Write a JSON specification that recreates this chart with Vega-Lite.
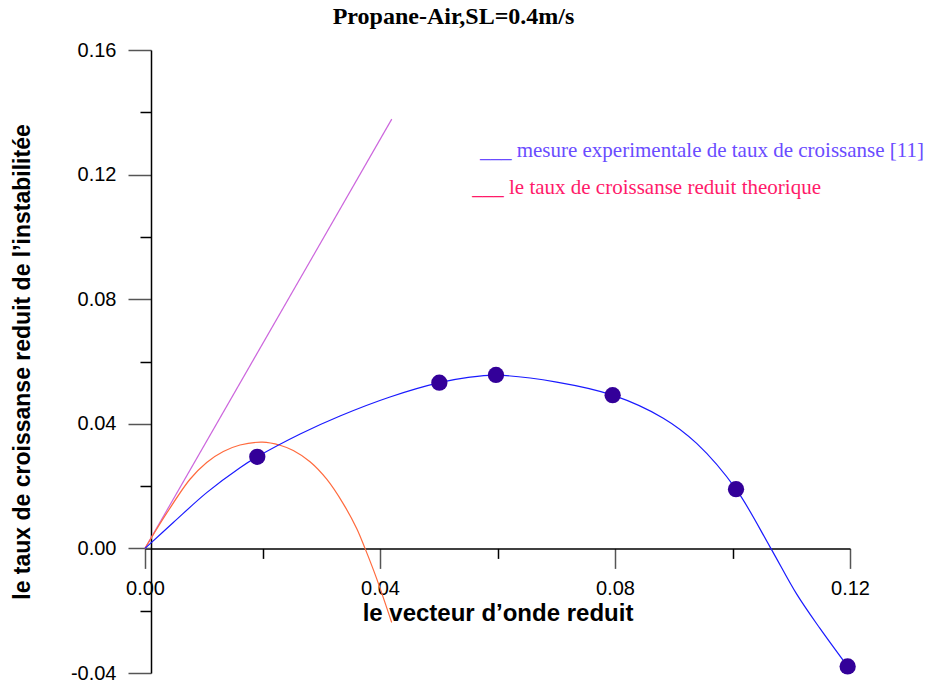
{
  "$schema": "https://vega.github.io/schema/vega-lite/v6.json",
  "width": 705,
  "height": 623,
  "autosize": {"type": "none"},
  "padding": {"left": 145, "top": 50, "right": 82, "bottom": 11},
  "background": "white",
  "config": {"view": {"stroke": null}, "font": "Liberation Sans"},
  "title": {
    "text": "Propane-Air,SL=0.4m/s",
    "font": "Liberation Serif",
    "fontSize": 24,
    "fontWeight": "bold",
    "color": "black",
    "anchor": "middle",
    "frame": "group",
    "offset": 11,
    "dx": -44
  },
  "datasets": {
    "asymptote": [
      {"k": 0, "omega": 0},
      {"k": 0.042, "omega": 0.1378}
    ],
    "theory": [
      {"k": 0, "omega": 0},
      {"k": 0.00369, "omega": 0.0113},
      {"k": 0.00766, "omega": 0.0222},
      {"k": 0.0105, "omega": 0.0276},
      {"k": 0.01333, "omega": 0.0311},
      {"k": 0.01617, "omega": 0.0332},
      {"k": 0.02, "omega": 0.0341},
      {"k": 0.02298, "omega": 0.0331},
      {"k": 0.02524, "omega": 0.0314},
      {"k": 0.02809, "omega": 0.0278},
      {"k": 0.03093, "omega": 0.0222},
      {"k": 0.03376, "omega": 0.0143},
      {"k": 0.03603, "omega": 0.0064},
      {"k": 0.03745, "omega": 0.0},
      {"k": 0.03943, "omega": -0.0097},
      {"k": 0.04199, "omega": -0.0238}
    ],
    "fit": [
      {"k": 0, "omega": 0},
      {"k": 0.00482, "omega": 0.0083},
      {"k": 0.0105, "omega": 0.0179},
      {"k": 0.01617, "omega": 0.0259},
      {"k": 0.01911, "omega": 0.0294},
      {"k": 0.0265, "omega": 0.0368},
      {"k": 0.03319, "omega": 0.0425},
      {"k": 0.0417, "omega": 0.0486},
      {"k": 0.0501, "omega": 0.0532},
      {"k": 0.05476, "omega": 0.0548},
      {"k": 0.05974, "omega": 0.0556},
      {"k": 0.07008, "omega": 0.0534},
      {"k": 0.0796, "omega": 0.0492},
      {"k": 0.08822, "omega": 0.0418},
      {"k": 0.0939, "omega": 0.0337},
      {"k": 0.1006, "omega": 0.019},
      {"k": 0.10638, "omega": 0.0005},
      {"k": 0.11093, "omega": -0.0147},
      {"k": 0.11489, "omega": -0.0257},
      {"k": 0.1196, "omega": -0.0379}
    ],
    "measures": [
      {"k": 0.01911, "omega": 0.0294},
      {"k": 0.0501, "omega": 0.0532},
      {"k": 0.05974, "omega": 0.0557},
      {"k": 0.0796, "omega": 0.0492},
      {"k": 0.1006, "omega": 0.019},
      {"k": 0.1196, "omega": -0.0379}
    ],
    "legend": [
      {"k": 0.057, "omega": 0.1276, "series": "mesure", "label": "___ mesure experimentale de taux de croissanse [11]"},
      {"k": 0.0557, "omega": 0.1157, "series": "theorique", "label": "___ le taux de croissanse reduit theorique"}
    ]
  },
  "layer": [
    {
      "data": {"name": "asymptote"},
      "mark": {"type": "line", "color": "#cc66dd", "strokeWidth": 1.2},
      "encoding": {
        "x": {
          "field": "k", "type": "quantitative",
          "scale": {"domain": [0, 0.12], "nice": false, "zero": false},
          "axis": {
            "orient": "bottom",
            "values": [0, 0.04, 0.08, 0.12],
            "format": ".2f",
            "offset": -124.6,
            "grid": false,
            "tickSize": 20,
            "tickColor": "#555555",
            "tickWidth": 1.5,
            "domainColor": "black",
            "domainWidth": 1.5,
            "labelFont": "Liberation Sans",
            "labelFontSize": 20,
            "labelColor": "black",
            "labelPadding": 10,
            "labelFlush": false,
            "labelOverlap": false,
            "title": "le vecteur d’onde reduit",
            "titleFont": "Liberation Sans",
            "titleFontSize": 24,
            "titleFontWeight": "bold",
            "titleColor": "black",
            "titlePadding": 3
          }
        },
        "y": {
          "field": "omega", "type": "quantitative",
          "scale": {"domain": [-0.04, 0.16], "nice": false, "zero": false},
          "axis": {
            "orient": "left",
            "values": [-0.04, 0, 0.04, 0.08, 0.12, 0.16],
            "labelExpr": "(datum.value < 0 ? '-' : '') + format(abs(datum.value), '.2f')",
            "offset": -6,
            "grid": false,
            "tickSize": 23,
            "tickColor": "#555555",
            "tickWidth": 1.5,
            "domainColor": "black",
            "domainWidth": 1.5,
            "labelFont": "Liberation Sans",
            "labelFontSize": 20,
            "labelColor": "black",
            "labelPadding": 12,
            "labelFlush": false,
            "labelOverlap": false,
            "title": "le taux de croissanse reduit de l’instabilitée",
            "titleFont": "Liberation Sans",
            "titleFontSize": 23,
            "titleFontWeight": "bold",
            "titleColor": "black",
            "titlePadding": 36
          }
        }
      }
    },
    {
      "data": {"name": "theory"},
      "mark": {"type": "line", "color": "#ff6a3d", "strokeWidth": 1.2, "interpolate": "catmull-rom"},
      "encoding": {
        "x": {
          "field": "k", "type": "quantitative",
          "axis": {
            "orient": "bottom",
            "values": [0.02, 0.06, 0.1],
            "offset": -124.6,
            "grid": false,
            "labels": false,
            "domain": false,
            "title": null,
            "tickSize": 10,
            "tickColor": "black",
            "tickWidth": 1.5
          }
        },
        "y": {
          "field": "omega", "type": "quantitative",
          "axis": {
            "orient": "left",
            "values": [-0.02, 0.02, 0.06, 0.1, 0.14],
            "offset": -6,
            "grid": false,
            "labels": false,
            "domain": false,
            "title": null,
            "tickSize": 11,
            "tickColor": "black",
            "tickWidth": 1.5
          }
        }
      }
    },
    {
      "data": {"name": "fit"},
      "mark": {"type": "line", "color": "#1a1aff", "strokeWidth": 1.2, "interpolate": "catmull-rom"},
      "encoding": {
        "x": {"field": "k", "type": "quantitative", "axis": null},
        "y": {"field": "omega", "type": "quantitative", "axis": null}
      }
    },
    {
      "data": {"name": "measures"},
      "mark": {"type": "point", "filled": true, "shape": "circle", "color": "#330099", "opacity": 1, "size": 265},
      "encoding": {
        "x": {"field": "k", "type": "quantitative", "axis": null},
        "y": {"field": "omega", "type": "quantitative", "axis": null}
      }
    },
    {
      "data": {"name": "legend"},
      "mark": {"type": "text", "align": "left", "baseline": "middle", "font": "Liberation Serif", "fontSize": 21},
      "encoding": {
        "x": {"field": "k", "type": "quantitative", "axis": null},
        "y": {"field": "omega", "type": "quantitative", "axis": null},
        "text": {"field": "label"},
        "color": {
          "field": "series", "type": "nominal",
          "scale": {"domain": ["mesure", "theorique"], "range": ["#6a4cff", "#ff1a6a"]},
          "legend": null
        }
      }
    }
  ],
  "resolve": {"axis": {"x": "independent", "y": "independent"}}
}
